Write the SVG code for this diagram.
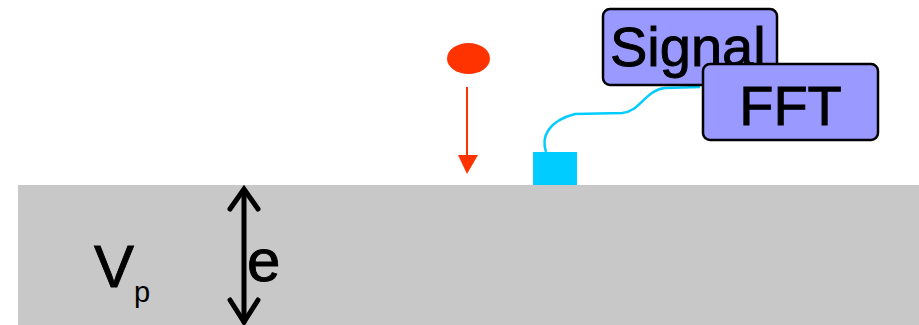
<svg xmlns="http://www.w3.org/2000/svg" width="919" height="325" viewBox="0 0 919 325">
<defs>
<style>
.lbl{font-family:"Liberation Sans",Arial,sans-serif;fill:#000;stroke:#000;stroke-width:0.9}
.sub{font-family:"Liberation Sans",Arial,sans-serif;fill:#000}
.box{fill:#9999FF;stroke:#000;stroke-width:2.5}
</style>
</defs>
<rect width="919" height="325" fill="#fff"/>
<g id="plate">
<rect x="18" y="185" width="901" height="140" fill="#C8C8C8"/>
<text class="lbl" x="94" y="287" font-size="60">V</text>
<text class="sub" x="134" y="302" font-size="29">p</text>
<text class="lbl" x="247" y="281" font-size="60">e</text>
</g>
<g id="ball">
<ellipse cx="468.5" cy="58.5" rx="21.5" ry="15.5" fill="#FF3300"/>
</g>
<g id="sensor">
<rect x="533" y="152" width="44" height="33" fill="#00CCFF"/>
</g>
<g id="connectors">
<path d="M467,87 L467,158" stroke="#FF3300" stroke-width="2"/>
<path d="M458,155 L478,155 L467,174 Z" fill="#FF3300"/>
<path d="M546,152 C541,137 548,121 575,114 L622,113 C640,112 645,90 665,88 L700,87" fill="none" stroke="#00CCFF" stroke-width="2.5"/>
<g stroke="#000" stroke-width="5" fill="none" stroke-linecap="round" stroke-linejoin="miter">
<path d="M244,190 L244,322"/>
<path d="M230,209 L244,189 L258,209"/>
<path d="M230,300 L244,322 L258,300"/>
</g>
</g>
<g id="signal">
<rect class="box" x="603" y="9" width="174" height="76" rx="7"/>
<text class="lbl" x="610" y="66" font-size="56">Signal</text>
</g>
<g id="fft">
<rect class="box" x="703" y="64" width="175" height="76" rx="7"/>
<text class="lbl" x="790.5" y="125" font-size="56" text-anchor="middle">FFT</text>
</g>
</svg>
